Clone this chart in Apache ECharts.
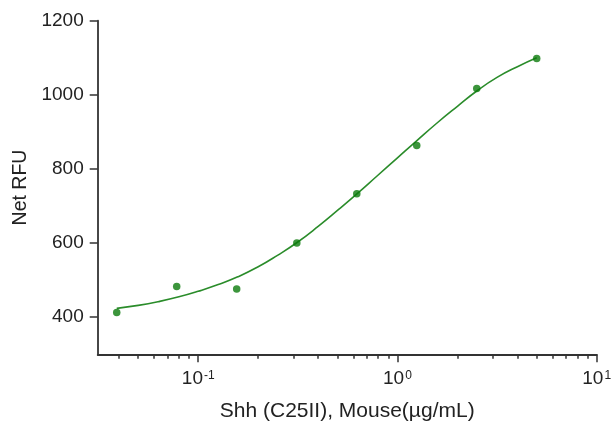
<!DOCTYPE html>
<html>
<head>
<meta charset="utf-8">
<script src="https://cdn.jsdelivr.net/npm/echarts@6/dist/echarts.min.js"></script>
<style>
html,body{margin:0;padding:0;background:#fff;}
#chart{width:613px;height:426px;}
</style>
</head>
<body>
<div id="chart"></div>
<script>
// Measured points
var doseValues = [0.039, 0.078, 0.156, 0.3125, 0.625, 1.25, 2.5, 5];
var rfuValues = [413, 483, 476, 600, 733, 863, 1017, 1098];

// Fitted curve
var fitDose = [0.039, 0.05, 0.063, 0.08, 0.1, 0.126, 0.158, 0.2, 0.25, 0.316, 0.4, 0.5,
               0.63, 0.79, 1.0, 1.26, 1.58, 2.0, 2.51, 3.16, 4.0, 5.0];
var fitRfu = [424, 432, 442, 455, 470, 488, 509, 536, 567, 603, 645, 688,
              734, 781, 830, 878, 924, 969, 1011, 1047, 1076, 1100];

// Axis ticks
var yTicks = [400, 600, 800, 1000, 1200];
var xMajorTicks = [0.1, 1, 10];
var xMajorLabels = ['10{s|-1}', '10{s|0}', '10{s|1}'];
var xMinorTicks = [0.04, 0.05, 0.06, 0.07, 0.08, 0.09,
                   0.2, 0.3, 0.4, 0.5, 0.6, 0.7, 0.8, 0.9,
                   2, 3, 4, 5, 6, 7, 8, 9];

var xTitle = 'Shh (C25II), Mouse(\u00b5g/mL)';
var yTitle = 'Net RFU';

var FONT = "'Liberation Sans', Arial, sans-serif";
var TXT = '#222';
var AX = '#333';

var chart = echarts.init(document.getElementById('chart'));

var scatterData = doseValues.map(function (d, i) { return [d, rfuValues[i]]; });
var fitData = fitDose.map(function (d, i) { return [d, fitRfu[i]]; });

chart.setOption({
  animation: false,
  backgroundColor: '#fff',
  grid: {left: 97.7, right: 16.3, top: 20.7, bottom: 71.7, containLabel: false, outerBoundsMode: 'none'},
  xAxis: [{
    type: 'log',
    logBase: 10,
    min: 0.0313,
    max: 10,
    position: 'bottom',
    name: xTitle,
    nameLocation: 'middle',
    nameGap: 46,
    nameTextStyle: {fontFamily: FONT, fontSize: 21, color: TXT},
    axisLine: {show: true, lineStyle: {color: AX, width: 1.8}},
    axisTick: {show: true, length: 8, customValues: xMajorTicks, lineStyle: {color: AX, width: 1.5}},
    axisLabel: {
      show: true,
      customValues: xMajorTicks,
      margin: 15,
      formatter: function (v) {
        for (var i = 0; i < xMajorTicks.length; i++) {
          if (Math.abs(xMajorTicks[i] - v) / xMajorTicks[i] < 1e-6) { return xMajorLabels[i]; }
        }
        return '';
      },
      fontFamily: FONT, fontSize: 19, color: TXT,
      rich: {
        s: {fontFamily: FONT, fontSize: 12, color: TXT, verticalAlign: 'top', padding: [0, 0, 0, 1]}
      }
    },
    splitLine: {show: false},
    minorTick: {show: false},
    minorSplitLine: {show: false}
  }, {
    type: 'log',
    logBase: 10,
    min: 0.0313,
    max: 10,
    position: 'bottom',
    gridIndex: 0,
    axisLine: {show: false},
    axisTick: {show: true, length: 4.5, customValues: xMinorTicks, lineStyle: {color: AX, width: 1.5}},
    axisLabel: {show: false},
    splitLine: {show: false}
  }],
  yAxis: {
    type: 'value',
    min: 300,
    max: 1200,
    name: yTitle,
    nameLocation: 'middle',
    nameGap: 64,
    nameRotate: 90,
    nameTextStyle: {fontFamily: FONT, fontSize: 19.5, color: TXT},
    axisLine: {show: true, lineStyle: {color: AX, width: 1.8}},
    axisTick: {show: true, length: 8, customValues: yTicks, lineStyle: {color: AX, width: 1.5}},
    axisLabel: {
      show: true, customValues: yTicks, margin: 14,
      formatter: function (v) { return String(v); },
      fontFamily: FONT, fontSize: 19, color: TXT
    },
    splitLine: {show: false}
  },
  series: [{
    type: 'line',
    xAxisIndex: 0,
    data: fitData,
    smooth: true,
    showSymbol: false,
    symbol: 'none',
    lineStyle: {color: '#2a8c2a', width: 1.6},
    z: 2
  }, {
    type: 'scatter',
    xAxisIndex: 0,
    data: scatterData,
    symbol: 'circle',
    symbolSize: 7.5,
    itemStyle: {color: '#0b7a0b'},
    z: 3
  }]
});
</script>
</body>
</html>
